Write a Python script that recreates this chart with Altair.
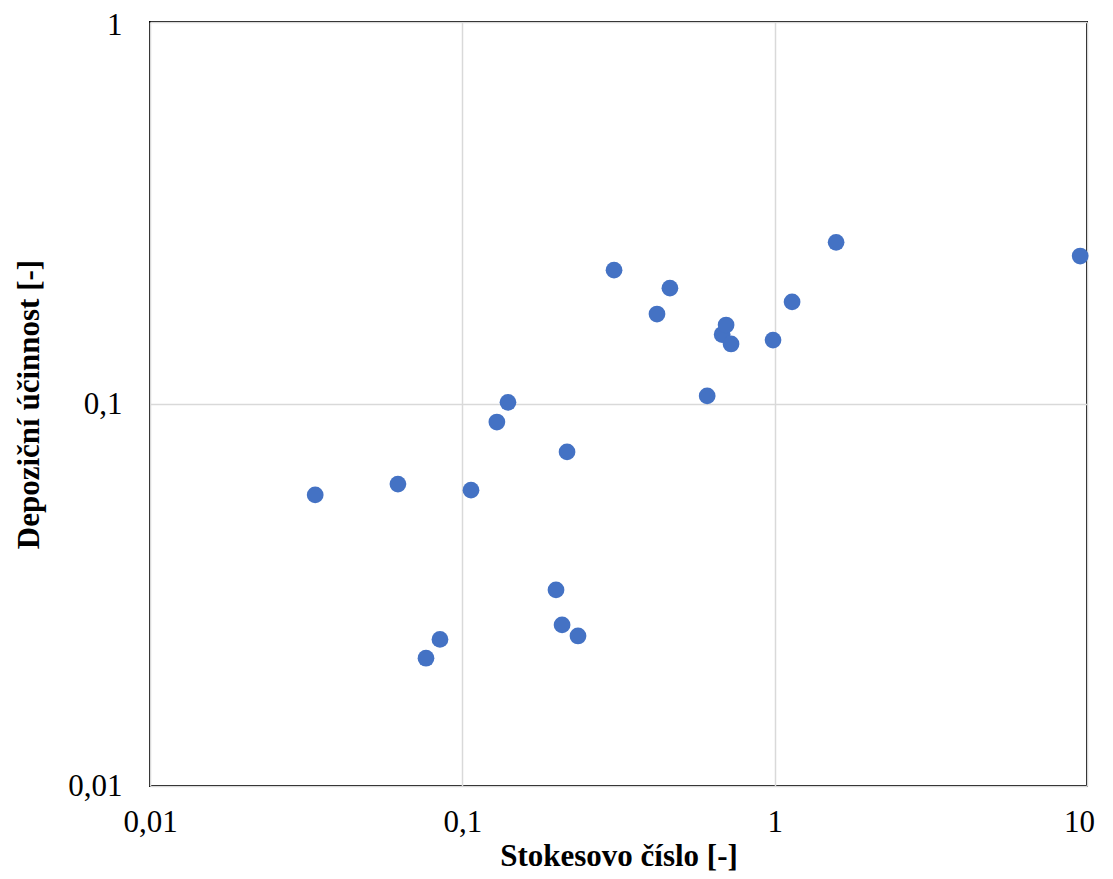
import altair as alt
import pandas as pd

stokes = [0.0338, 0.0622, 0.1066, 0.0765, 0.0848, 0.129, 0.140, 0.1995, 0.2086, 0.2346,
          0.2164, 0.306, 0.420, 0.462, 0.608, 0.679, 0.699, 0.725, 0.988, 1.137, 1.573, 9.51]
efficiency = [0.0578, 0.0617, 0.0595, 0.0216, 0.0242, 0.0897, 0.101, 0.0326, 0.0264, 0.0247,
              0.0749, 0.224, 0.172, 0.201, 0.105, 0.152, 0.161, 0.1436, 0.147, 0.185, 0.265, 0.244]

x_ticks = [0.01, 0.1, 1, 10]
y_ticks = [0.01, 0.1, 1]

df = pd.DataFrame({"stk": stokes, "eff": efficiency})

font = "Liberation Serif"

chart = alt.Chart(df).mark_circle(size=280, opacity=1, color="#4472C4").encode(
    x=alt.X("stk:Q",
            scale=alt.Scale(type="log", domain=[0.01, 10]),
            axis=alt.Axis(values=x_ticks, title="Stokesovo číslo [-]",
                          labelExpr="replace(toString(datum.value), '.', ',')",
                          labelOffset={"condition": {"test": "datum.value == 10", "value": -8}, "value": 0},
                          ticks=False, domain=False, labelPadding=21,
                          labelFontSize=31, titleFontSize=31, titlePadding=4,
                          labelFlush=False)),
    y=alt.Y("eff:Q",
            scale=alt.Scale(type="log", domain=[0.01, 1]),
            axis=alt.Axis(values=y_ticks, title="Depoziční účinnost [-]",
                          labelExpr="replace(toString(datum.value), '.', ',')",
                          labelOffset={"condition": {"test": "datum.value == 1", "value": 3}, "value": 0},
                          ticks=False, domain=False, labelPadding=28,
                          labelFontSize=31, titleFontSize=31, titlePadding=22,
                          labelFlush=False)),
).properties(
    width=937, height=764,
    autosize=alt.AutoSizeParams(type="none"),
    padding={"left": 142, "top": 14, "right": 12, "bottom": 85},
).configure_axis(
    labelFont=font, titleFont=font, labelColor="black", titleColor="black",
    titleFontWeight="bold", gridColor="#D9D9D9", gridWidth=1.5,
).configure_view(
    stroke="black", strokeWidth=2
)

chart.save("out.html", embed_options={"renderer": "svg", "actions": False})
